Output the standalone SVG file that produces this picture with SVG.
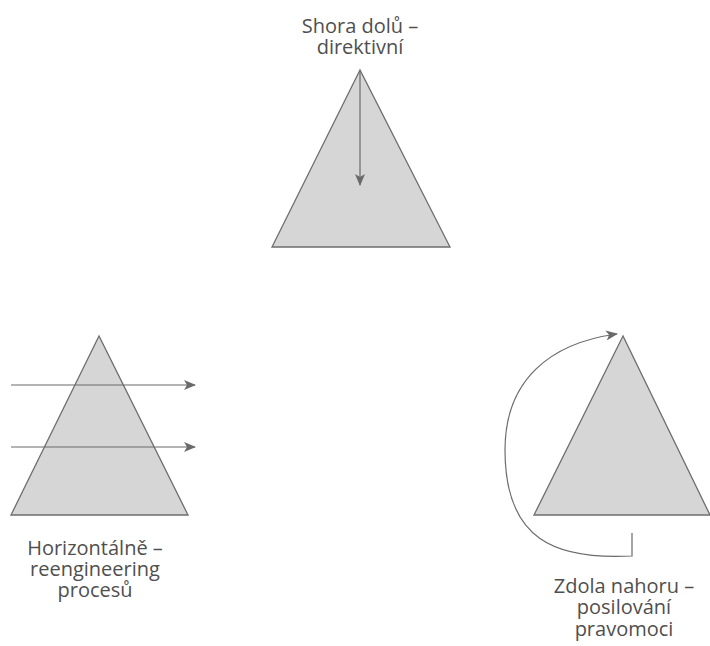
<svg xmlns="http://www.w3.org/2000/svg" width="710" height="646" viewBox="0 0 710 646">
  <style>
    .tri { fill: #d6d6d6; stroke: #6e6e6e; stroke-width: 1.3; stroke-linejoin: miter; }
    .con { fill: none; stroke: #6a6a6a; stroke-width: 1.2; }
    .lbl { font-family: "Open Sans", "Liberation Sans", sans-serif; font-size: 20px; fill: #4f4f4f; text-anchor: middle; }
  </style>
  <defs>
    <marker id="ah" viewBox="0 0 12 10" refX="11" refY="5" markerWidth="12" markerHeight="10" markerUnits="userSpaceOnUse" orient="auto">
      <path d="M0,0 L12,5 L0,10 L3,5 Z" fill="#6a6a6a"/>
    </marker>
  </defs>
  <rect width="710" height="646" fill="#ffffff"/>

  <g id="top-node">
    <polygon class="tri" points="360,70 272,247 450,247"/>
    <text class="lbl" x="360" y="33">Shora dolů –</text>
    <text class="lbl" x="360" y="54">direktivní</text>
  </g>

  <g id="left-node">
    <polygon class="tri" points="99,336 11,515 188,515"/>
    <text class="lbl" x="95" y="555">Horizontálně –</text>
    <text class="lbl" x="95" y="576">reengineering</text>
    <text class="lbl" x="95" y="597">procesů</text>
  </g>

  <g id="right-node">
    <polygon class="tri" points="623,336 534,515 710,515"/>
    <text class="lbl" x="624" y="593">Zdola nahoru –</text>
    <text class="lbl" x="624" y="614">posilování</text>
    <text class="lbl" x="624" y="636">pravomoci</text>
  </g>

  <g id="connectors">
    <line class="con" x1="360" y1="71" x2="360" y2="185" marker-end="url(#ah)"/>
    <line class="con" x1="11" y1="385" x2="195" y2="385" marker-end="url(#ah)"/>
    <line class="con" x1="11" y1="447" x2="195" y2="447" marker-end="url(#ah)"/>
    <path class="con" d="M632,533 V556 C555,560 505,540 505,450 C505,380 550,343 617,334" marker-end="url(#ah)"/>
  </g>
</svg>
